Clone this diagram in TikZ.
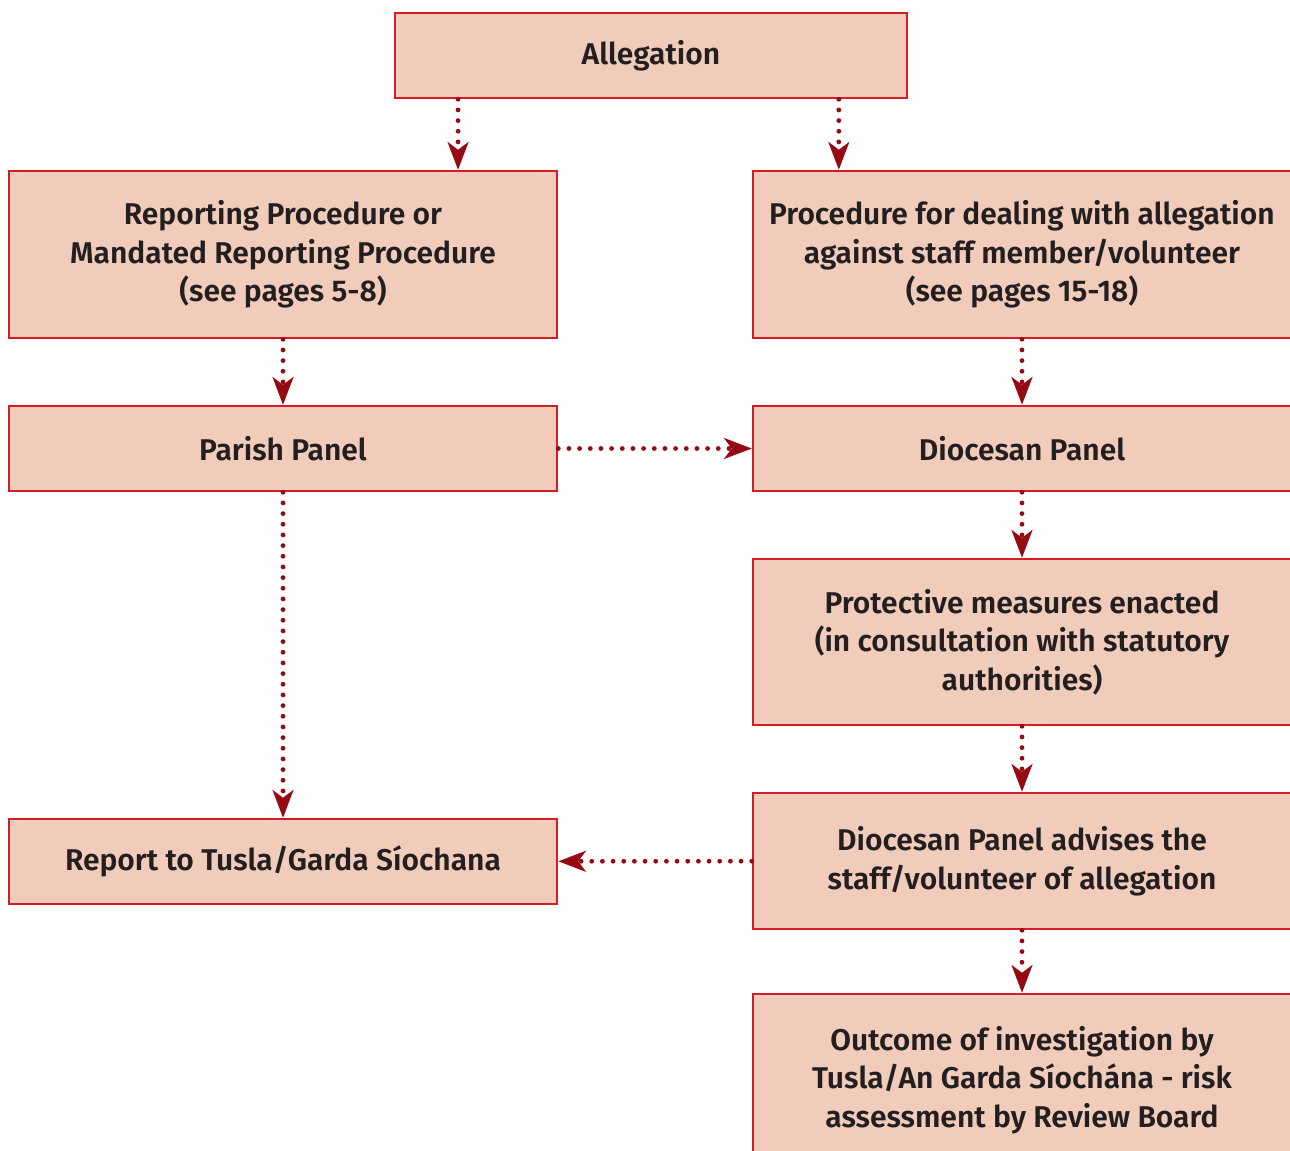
\documentclass[tikz,border=0pt]{standalone}
\usepackage{fontspec}
\setmainfont{Fira Sans SemiBold}
\usetikzlibrary{arrows.meta,calc}

\definecolor{boxfill}{RGB}{242,204,187}
\definecolor{boxline}{RGB}{210,30,40}
\definecolor{arrowred}{RGB}{150,10,20}
\definecolor{textgrey}{RGB}{35,31,32}

\tikzset{every picture/.style={line width=0.75pt}}
\tikzset{
box/.style={draw=boxline, fill=boxfill, line width=1.9pt, text=textgrey,
    align=center, inner sep=0pt, font=\fontsize{22.5}{29}\selectfont},
leftbox/.style={box, minimum width=411pt},
rightbox/.style={box, minimum width=403.5pt},
flow/.style={arrowred, line width=3.6pt, line cap=round,
    dash pattern=on 0pt off 8pt,
    -{Stealth[length=21pt, width=16pt, inset=6pt, line width=0pt]}}
}

\begin{document}
\begin{tikzpicture}[x=0.75pt,y=0.75pt,yscale=-1,xscale=1]

\useasboundingbox (0,0) rectangle (1290,1151);

% BOXES

\node[box, minimum width=384pt, minimum height=63.75pt] (alleg) at (651,55.5) {Allegation};
\node[leftbox, minimum height=125.25pt] (rep) at (283,254.5)
    {Reporting Procedure or\\Mandated Reporting Procedure\\(see pages 5-8)};
\node[rightbox, minimum height=125.25pt] (proc) at (1022,254.5)
    {Procedure for dealing with allegation\\against staff member/volunteer\\(see pages 15-18)};
\node[leftbox, minimum height=63.75pt] (parish) at (283,448.5) {Parish Panel};
\node[rightbox, minimum height=63.75pt] (diopanel) at (1022,448.5) {Diocesan Panel};
\node[rightbox, minimum height=124.5pt] (protect) at (1022,642)
    {Protective measures enacted\\(in consultation with statutory\\authorities)};
\node[rightbox, minimum height=102pt] (advise) at (1022,861)
    {Diocesan Panel advises the\\staff/volunteer of allegation};
\node[leftbox, minimum height=63.75pt] (report) at (283,861.5) {Report to Tusla/Garda Síochana};
\node[rightbox, minimum height=129pt] (outcome) at (1022,1080)
    {Outcome of investigation by\\Tusla/An Garda Síochána - risk\\assessment by Review Board};

% ARROWS

\coordinate (allegl) at ($(alleg.south west)!0.125!(alleg.south east)$);
\coordinate (allegr) at ($(alleg.south west)!0.865!(alleg.south east)$);

\draw[flow] (allegl) -- (allegl |- rep.north);
\draw[flow] (allegr) -- (allegr |- proc.north);
\draw[flow] (rep) -- (parish);
\draw[flow] (proc) -- (diopanel);
\draw[flow] (parish) -- (diopanel);
\draw[flow] (parish) -- (report);
\draw[flow] (diopanel) -- (protect);
\draw[flow] (protect) -- (advise);
\draw[flow] (advise) -- (report);
\draw[flow] (advise) -- (outcome);

\end{tikzpicture}
\end{document}
